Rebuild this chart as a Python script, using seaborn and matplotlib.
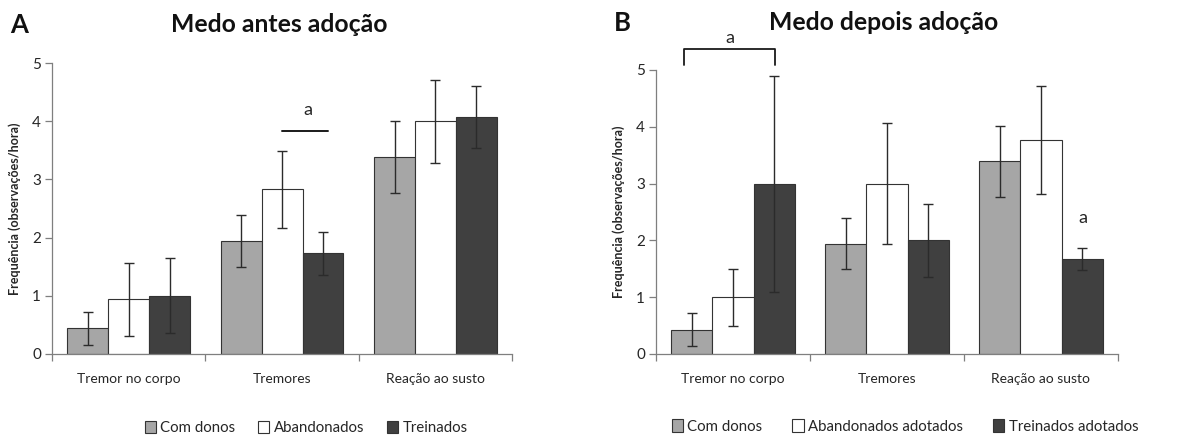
import matplotlib
matplotlib.use("Agg")
import matplotlib.pyplot as plt
import seaborn as sns
import pandas as pd
import numpy as np

sns.set_theme(style="white")
plt.rcParams['font.family'] = ['Lato', 'DejaVu Sans']

categories = ["Tremor no corpo", "Tremores", "Reação ao susto"]
groups_a = ["Com donos", "Abandonados", "Treinados"]
groups_b = ["Com donos", "Abandonados adotados", "Treinados adotados"]

# Panel A (antes adoção): mean and error half-width per group, per category
a_com = [0.44, 1.94, 3.39]
a_aba = [0.94, 2.83, 4.00]
a_tre = [1.00, 1.73, 4.08]
a_com_err = [0.29, 0.445, 0.62]
a_aba_err = [0.63, 0.665, 0.71]
a_tre_err = [0.645, 0.37, 0.535]

# Panel B (depois adoção)
b_com = [0.43, 1.94, 3.39]
b_aba = [1.00, 3.00, 3.77]
b_tre = [3.00, 2.00, 1.67]
b_com_err = [0.29, 0.45, 0.62]
b_aba_err = [0.50, 1.07, 0.95]
b_tre_err = [1.90, 0.64, 0.20]

yticks = [0, 1, 2, 3, 4, 5]
colors = ["#a6a6a6", "#ffffff", "#404040"]


def long_df(groups, series):
    rows = []
    for g, vals in zip(groups, series):
        for c, v in zip(categories, vals):
            rows.append({"cat": c, "grp": g, "val": v})
    return pd.DataFrame(rows)


fig = plt.figure(figsize=(11.91, 4.38), dpi=100)
ax_a = fig.add_axes([0.0437, 0.1918, 0.3863, 0.664])
ax_b = fig.add_axes([0.5508, 0.1918, 0.3879, 0.6485])

spine_c = "#7f7f7f"
text_c = "#262626"


def draw(ax, groups, series, errs, legend_labels, leg_x, colsp):
    df = long_df(groups, series)
    sns.barplot(data=df, x="cat", y="val", hue="grp", order=categories,
                hue_order=groups, palette=colors, errorbar=None,
                edgecolor="#333333", linewidth=0.8, width=0.8, ax=ax,
                saturation=1)
    # error bars from bar positions
    for container, err in zip(ax.containers, errs):
        xs = [p.get_x() + p.get_width() / 2 for p in container.patches]
        hs = [p.get_height() for p in container.patches]
        ax.errorbar(xs, hs, yerr=err, fmt="none", ecolor="#2b2b2b",
                    elinewidth=1.0, capsize=3.5, capthick=1.0, zorder=5)
    ax.set_ylim(0, 5)
    ax.set_xlim(-0.5, 2.5)
    ax.set_yticks(yticks)
    ax.set_yticklabels([str(t) for t in yticks], fontsize=11, color=text_c)
    ax.set_xlabel("")
    ax.set_ylabel("Frequência (observações/hora)", fontsize=9,
                  fontweight="bold", color=text_c, labelpad=8)
    ax.set_xticks([0, 1, 2])
    ax.set_xticklabels(categories, fontsize=10, color=text_c)
    ax.set_xticks([-0.5, 0.5, 1.5, 2.5], minor=True)
    ax.tick_params(axis="x", which="major", length=0, pad=14)
    ax.tick_params(axis="x", which="minor", length=5, color=spine_c,
                   width=0.9, direction="out", bottom=True)
    ax.tick_params(axis="y", length=5, color=spine_c, width=0.9,
                   direction="out", left=True, pad=3)
    for s in ["top", "right"]:
        ax.spines[s].set_visible(False)
    for s in ["left", "bottom"]:
        ax.spines[s].set_color(spine_c)
        ax.spines[s].set_linewidth(0.9)
    handles, labels = ax.get_legend_handles_labels()
    ax.legend(handles, legend_labels, loc="center",
              bbox_to_anchor=(leg_x, -0.255),
              ncol=3, frameon=False, fontsize=10.8, handlelength=0.75,
              handleheight=0.9, handletextpad=0.3, columnspacing=colsp,
              labelcolor=text_c)


draw(ax_a, groups_a, [a_com, a_aba, a_tre],
     [a_com_err, a_aba_err, a_tre_err], groups_a, 0.552, 1.5)
draw(ax_b, groups_b, [b_com, b_aba, b_tre],
     [b_com_err, b_aba_err, b_tre_err], groups_b, 0.539, 2.0)

# significance annotations
ax_a.plot([1.0, 1.3], [3.83, 3.83], color="#1a1a1a", lw=1.4)
ax_a.text(1.17, 4.05, "a", ha="center", va="bottom", fontsize=13, color=text_c)

ax_b.plot([-0.32, -0.32, 0.27, 0.27], [5.09, 5.36, 5.36, 5.09],
          color="#1a1a1a", lw=1.3, clip_on=False)
ax_b.text(-0.02, 5.43, "a", ha="center", va="bottom", fontsize=13,
          color=text_c, clip_on=False)
ax_b.text(2.27, 2.25, "a", ha="center", va="bottom", fontsize=13, color=text_c)

# titles and panel letters
fig.text(279 / 1191, 1 - 25 / 438, "Medo antes adoção", ha="center",
         va="center", fontsize=17.8, fontweight="bold", color="#111111")
fig.text(884 / 1191, 1 - 23 / 438, "Medo depois adoção", ha="center",
         va="center", fontsize=17.8, fontweight="bold", color="#111111")
fig.text(10 / 1191, 1 - 25 / 438, "A", ha="left", va="center",
         fontsize=18.5, fontweight="bold", color="#111111")
fig.text(614 / 1191, 1 - 23 / 438, "B", ha="left", va="center",
         fontsize=18.5, fontweight="bold", color="#111111")

fig.savefig("out.png", dpi=100)
